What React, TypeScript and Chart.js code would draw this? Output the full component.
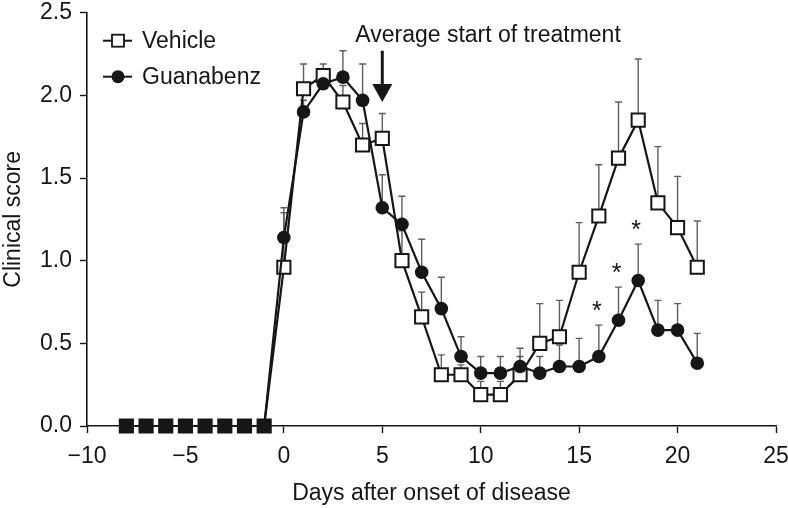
import React, { useEffect, useRef } from "react";
import { Chart, registerables } from "chart.js";

Chart.register(...registerables);

// ---- data ----
const days = [-8, -7, -6, -5, -4, -3, -2, -1, 0, 1, 2, 3, 4, 5, 6, 7, 8, 9, 10, 11, 12, 13, 14, 15, 16, 17, 18, 19, 20, 21];
const vehicle = [0, 0, 0, 0, 0, 0, 0, 0, 0.96, 2.04, 2.12, 1.96, 1.7, 1.74, 1.0, 0.66, 0.31, 0.31, 0.19, 0.19, 0.31, 0.5, 0.54, 0.93, 1.27, 1.62, 1.85, 1.35, 1.2, 0.96];
const vehicleErr = [0, 0, 0, 0, 0, 0, 0, 0, 0.36, 0.15, 0.07, 0.1, 0.13, 0.15, 0.18, 0.15, 0.12, 0.06, 0.08, 0.08, 0.11, 0.24, 0.22, 0.3, 0.31, 0.34, 0.37, 0.34, 0.31, 0.28];
const guanabenz = [0, 0, 0, 0, 0, 0, 0, 0, 1.14, 1.9, 2.07, 2.11, 1.97, 1.32, 1.22, 0.93, 0.71, 0.42, 0.32, 0.32, 0.36, 0.32, 0.36, 0.36, 0.42, 0.64, 0.88, 0.58, 0.58, 0.38];
const guanabenzErr = [0, 0, 0, 0, 0, 0, 0, 0, 0.15, 0.07, 0.05, 0.16, 0.22, 0.2, 0.17, 0.2, 0.19, 0.12, 0.1, 0.1, 0.11, 0.1, 0.13, 0.17, 0.19, 0.2, 0.22, 0.18, 0.16, 0.18];
const significantDays = [16, 17, 18];
const seriesNames = ["Vehicle", "Guanabenz"];
const xTickValues = [-10, -5, 0, 5, 10, 15, 20, 25];
const yTickValues = [0, 0.5, 1.0, 1.5, 2.0, 2.5];
const xTitle = "Days after onset of disease";
const yTitle = "Clinical score";
const annotationText = "Average start of treatment";
const arrowDay = 5;
const arrowTop = 2.27;
const arrowTip = 1.96;

const FONT = "'Liberation Sans', Arial, Helvetica, sans-serif";
const INK = "#161616";
const ERR = "#5e5e5e";
const FS = 23;

const overlay = {
  id: "overlay",
  beforeDatasetsDraw(chart: any) {
    const { ctx } = chart;
    const xs = chart.scales.x;
    const ys = chart.scales.y;
    const sets = [
      [vehicle, vehicleErr],
      [guanabenz, guanabenzErr],
    ];
    ctx.save();
    ctx.strokeStyle = ERR;
    ctx.lineWidth = 1.4;
    sets.forEach(([vals, errs]) => {
      vals.forEach((v: number, i: number) => {
        const e = errs[i];
        if (!e) return;
        const x = xs.getPixelForValue(days[i]);
        const y0 = ys.getPixelForValue(v);
        const y1 = ys.getPixelForValue(v + e);
        ctx.beginPath();
        ctx.moveTo(x, y0);
        ctx.lineTo(x, y1);
        ctx.moveTo(x - 3.5, y1);
        ctx.lineTo(x + 3.5, y1);
        ctx.stroke();
      });
    });
    ctx.restore();
  },
  afterDatasetsDraw(chart: any) {
    const { ctx, chartArea } = chart;
    const xs = chart.scales.x;
    const ys = chart.scales.y;
    ctx.save();
    // significance stars
    ctx.fillStyle = INK;
    ctx.font = `25px ${FONT}`;
    ctx.textAlign = "center";
    ctx.textBaseline = "middle";
    significantDays.forEach((d) => {
      const i = days.indexOf(d);
      const x = xs.getPixelForValue(d);
      const y = ys.getPixelForValue(guanabenz[i] + guanabenzErr[i]);
      ctx.fillText("*", x - 2, y - 13);
    });

    // annotation arrow
    const ax = xs.getPixelForValue(arrowDay);
    const aTop = ys.getPixelForValue(arrowTop);
    const aTip = ys.getPixelForValue(arrowTip);
    ctx.strokeStyle = INK;
    ctx.lineWidth = 3;
    ctx.beginPath();
    ctx.moveTo(ax, aTop);
    ctx.lineTo(ax, aTip - 14);
    ctx.stroke();
    ctx.beginPath();
    ctx.moveTo(ax - 10, aTip - 18);
    ctx.lineTo(ax + 10, aTip - 18);
    ctx.lineTo(ax, aTip);
    ctx.closePath();
    ctx.fill();
    ctx.textAlign = "left";
    ctx.font = `${FS}px ${FONT}`;
    ctx.fillText(annotationText, ax - 27, aTop - 15);

    // legend
    const lx = chartArea.left + 16;
    const rows = [chartArea.top + 28, chartArea.top + 64];
    ctx.lineWidth = 2;
    rows.forEach((ry, k) => {
      ctx.strokeStyle = INK;
      ctx.beginPath();
      ctx.moveTo(lx, ry);
      ctx.lineTo(lx + 29, ry);
      ctx.stroke();
      if (k === 0) {
        ctx.fillStyle = "#fff";
        ctx.fillRect(lx + 9, ry - 6, 12, 12);
        ctx.lineWidth = 1.8;
        ctx.strokeRect(lx + 9, ry - 6, 12, 12);
        ctx.lineWidth = 2;
      } else {
        ctx.fillStyle = INK;
        ctx.beginPath();
        ctx.arc(lx + 15, ry, 6.5, 0, Math.PI * 2);
        ctx.fill();
      }
      ctx.fillStyle = INK;
      ctx.font = `${FS}px ${FONT}`;
      ctx.textAlign = "left";
      ctx.textBaseline = "middle";
      ctx.fillText(seriesNames[k], lx + 39, ry + 1);
    });
    ctx.restore();
  },
};

const fmtX = (v: number) => (v < 0 ? "\u2212" + Math.abs(v) : String(v));

export default function App() {
  const ref = useRef<HTMLCanvasElement | null>(null);
  useEffect(() => {
    document.body.style.margin = "0";
    const canvas = ref.current!;
    const chart = new Chart(canvas, {
      type: "line",
      data: {
        datasets: [
          {
            label: seriesNames[0],
            data: days.map((d, i) => ({ x: d, y: vehicle[i] })),
            borderColor: INK,
            borderWidth: 2.2,
            pointStyle: "rect",
            pointRadius: 9.3,
            pointBorderWidth: 2,
            pointBorderColor: INK,
            pointBackgroundColor: days.map((d) => (d < 0 ? INK : "#ffffff")),
            clip: false,
            order: 2,
          },
          {
            label: seriesNames[1],
            data: days.map((d, i) => ({ x: d, y: guanabenz[i] })),
            borderColor: INK,
            borderWidth: 2.2,
            pointStyle: "circle",
            pointRadius: 6.8,
            pointBorderWidth: 0,
            pointBackgroundColor: INK,
            clip: false,
            order: 1,
          },
        ],
      },
      options: {
        animation: false,
        responsive: false,
        maintainAspectRatio: false,
        layout: { padding: { top: 12.7, right: 12, left: 0, bottom: 0 } },
        plugins: { legend: { display: false }, tooltip: { enabled: false } },
        scales: {
          x: {
            type: "linear",
            min: -10,
            max: 25,
            afterBuildTicks: (s: any) => {
              s.ticks = xTickValues.map((v) => ({ value: v }));
            },
            afterFit: (s: any) => {
              s.height = 82;
              s.paddingLeft = 0;
              s.paddingRight = 0;
            },
            ticks: {
              callback: (v: any) => fmtX(Number(v)),
              font: { family: FONT, size: FS },
              color: INK,
              padding: 10,
              maxRotation: 0,
            },
            grid: { drawOnChartArea: false, drawTicks: true, tickLength: 7, tickColor: INK, tickWidth: 1.4 },
            border: { display: true, color: INK, width: 1.6 },
            title: {
              display: true,
              text: xTitle,
              font: { family: FONT, size: FS },
              color: INK,
              padding: { top: 0, bottom: 1 },
            },
          },
          y: {
            type: "linear",
            min: 0,
            max: 2.5,
            afterBuildTicks: (s: any) => {
              s.ticks = yTickValues.map((v) => ({ value: v }));
            },
            afterFit: (s: any) => {
              s.width = 87;
              s.paddingTop = 0;
              s.paddingBottom = 0;
            },
            ticks: {
              callback: (v: any) => Number(v).toFixed(1),
              font: { family: FONT, size: FS },
              color: INK,
              padding: 8,
            },
            grid: { drawOnChartArea: false, drawTicks: true, tickLength: 7, tickColor: INK, tickWidth: 1.4 },
            border: { display: true, color: INK, width: 1.6 },
            title: {
              display: true,
              text: yTitle,
              font: { family: FONT, size: FS },
              color: INK,
              padding: { top: 0, bottom: 0 },
            },
          },
        },
      },
      plugins: [overlay],
    });
    return () => chart.destroy();
  }, []);
  return (
    <div style={{ width: 788, height: 508 }}>
      <canvas ref={ref} width={788} height={508} style={{ display: "block", width: 788, height: 508 }} />
    </div>
  );
}
